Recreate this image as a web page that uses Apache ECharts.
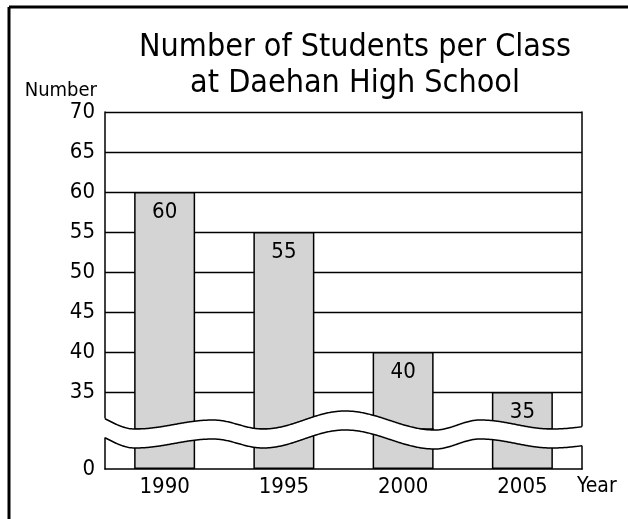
<!DOCTYPE html>
<html><head><meta charset="utf-8">
<script src="https://cdn.jsdelivr.net/npm/echarts@6/dist/echarts.min.js"></script>
<style>html,body{margin:0;padding:0;background:#fff;overflow:hidden}#c{width:628px;height:519px}</style>
</head><body><div id="c"></div>
<script>
// ---- data ----
const categories = ['1990', '1995', '2000', '2005'];
const students = [60, 55, 40, 35];
const upperMin = 30, upperMax = 70, tickStep = 5;   // upper (broken) part of y axis
const lowerMin = 0, lowerMax = 5;                    // lower stub of y axis
const titleText = 'Number of Students per Class\nat Daehan High School';
const yName = 'Number';
const xName = 'Year';

const FONT = "'Liberation Sans Narrow','DejaVu Sans Condensed','Arial Narrow',sans-serif";
const chart = echarts.init(document.getElementById('c'), null, {renderer: 'canvas'});

// wave (axis break) decoration, pixel keypoints of upper edge
const waveKeys = [[80,411],[135,429],[213,420],[263,429],[345,411],[435,430],[480,420],[552,429],[630,422]];
const GAP = 19;
function waveY(x) {
  for (let i = 0; i < waveKeys.length - 1; i++) {
    const a = waveKeys[i], b = waveKeys[i + 1];
    if (x >= a[0] && x <= b[0]) {
      const t = (x - a[0]) / (b[0] - a[0]);
      return a[1] + (b[1] - a[1]) * (1 - Math.cos(Math.PI * t)) / 2;
    }
  }
  return waveKeys[waveKeys.length - 1][1];
}
const up = [], lo = [];
for (let x = 105; x <= 582; x += 1) { up.push([x, waveY(x)]); lo.push([x, waveY(x) + GAP]); }
const fu = [], fl = [];
for (let x = 102; x <= 585; x += 1) { fu.push([x, waveY(x)]); fl.push([x, waveY(x) + GAP]); }
const poly = fu.concat(fl.reverse());

const axisLineStyle = {color: '#000', width: 1.5};
const labelStyle = {color: '#000', fontSize: 22, fontFamily: FONT};

chart.setOption({
  animation: false,
  backgroundColor: '#fff',
  title: {
    text: titleText, left: 350, top: 25, textAlign: 'center',
    textStyle: {fontFamily: FONT, fontSize: 32, fontWeight: 'normal', color: '#000', lineHeight: 36}
  },
  grid: [
    {left: 105, right: 46, top: 112, bottom: 87},
    {left: 105, right: 46, top: 429, bottom: 50}
  ],
  xAxis: [
    {gridIndex: 0, type: 'category', data: categories, show: false},
    {gridIndex: 1, type: 'category', data: categories,
     axisLine: {lineStyle: axisLineStyle}, axisTick: {show: false},
     axisLabel: Object.assign({margin: 7}, labelStyle),
     name: xName, nameLocation: 'end', nameGap: -5,
     nameTextStyle: {fontFamily: FONT, fontSize: 21, color: '#000', align: 'left', verticalAlign: 'top', padding: [7, 0, 0, 0]}}
  ],
  yAxis: [
    {gridIndex: 0, type: 'value', min: upperMin, max: upperMax, interval: tickStep,
     axisLine: {show: true, lineStyle: axisLineStyle}, axisTick: {show: false},
     axisLabel: Object.assign({showMinLabel: false, margin: 10}, labelStyle),
     splitLine: {show: true, showMinLine: false, lineStyle: {color: '#000', width: 1.4}},
     name: yName, nameLocation: 'end', nameGap: 18,
     nameTextStyle: {fontFamily: FONT, fontSize: 20, color: '#000', align: 'right', verticalAlign: 'middle', padding: [0, 8, 0, 0]}},
    {gridIndex: 0, type: 'value', position: 'right', min: upperMin, max: upperMax, interval: tickStep,
     axisLine: {show: true, lineStyle: axisLineStyle}, axisTick: {show: false}, axisLabel: {show: false}, splitLine: {show: false}},
    {gridIndex: 1, type: 'value', min: lowerMin, max: lowerMax, interval: tickStep,
     axisLine: {show: true, lineStyle: axisLineStyle}, axisTick: {show: false},
     axisLabel: Object.assign({showMaxLabel: false, margin: 10}, labelStyle),
     splitLine: {show: false}},
    {gridIndex: 1, type: 'value', position: 'right', min: lowerMin, max: lowerMax, interval: tickStep,
     axisLine: {show: true, lineStyle: axisLineStyle}, axisTick: {show: false}, axisLabel: {show: false}, splitLine: {show: false}}
  ],
  series: [
    {type: 'bar', xAxisIndex: 0, yAxisIndex: 0, data: students, barWidth: 61, clip: true,
     itemStyle: {color: '#d4d4d4', borderColor: '#000', borderWidth: 1.5},
     label: {show: true, position: 'insideTop', distance: 9, color: '#000', fontSize: 22, fontFamily: FONT}},
    {type: 'bar', xAxisIndex: 1, yAxisIndex: 2, data: students, barWidth: 61, clip: true,
     itemStyle: {color: '#d4d4d4', borderColor: '#000', borderWidth: 1.5}}
  ],
  graphic: [
    {type: 'polygon', z: 100, shape: {points: poly}, style: {fill: '#fff', stroke: null}, silent: true},
    {type: 'polyline', z: 101, shape: {points: up}, style: {stroke: '#000', lineWidth: 1.5, fill: null}, silent: true},
    {type: 'polyline', z: 101, shape: {points: lo}, style: {stroke: '#000', lineWidth: 1.5, fill: null}, silent: true},
    {type: 'line', z: 101, shape: {x1: 9, y1: 7, x2: 660, y2: 7}, style: {stroke: '#000', lineWidth: 3}, silent: true},
    {type: 'line', z: 101, shape: {x1: 9, y1: 7, x2: 9, y2: 560}, style: {stroke: '#000', lineWidth: 3}, silent: true}
  ]
});
</script>
</body></html>
